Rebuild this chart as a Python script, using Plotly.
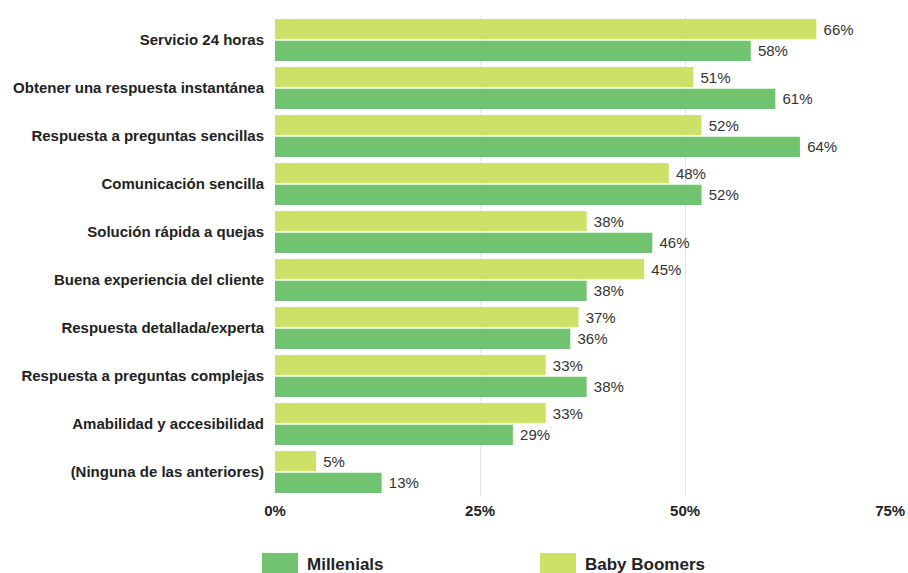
import plotly.graph_objects as go

categories = [
    "Servicio 24 horas",
    "Obtener una respuesta instantánea",
    "Respuesta a preguntas sencillas",
    "Comunicación sencilla",
    "Solución rápida a quejas",
    "Buena experiencia del cliente",
    "Respuesta detallada/experta",
    "Respuesta a preguntas complejas",
    "Amabilidad y accesibilidad",
    "(Ninguna de las anteriores)",
]
baby_boomers = [66, 51, 52, 48, 38, 45, 37, 33, 33, 5]
millenials = [58, 61, 64, 52, 46, 38, 36, 38, 29, 13]
tick_vals = [0, 25, 50, 75]
tick_text = ["0%", "25%", "50%", "75%"]

C_MIL = "#72c36f"
C_BB = "#cde166"
FONT = "Liberation Sans"

fig = go.Figure()
fig.add_trace(go.Bar(
    y=categories, x=baby_boomers, orientation="h", name="Baby Boomers",
    marker=dict(color=C_BB, line=dict(width=0)),
    texttemplate=" %{x}%", textposition="outside", cliponaxis=False,
    textfont=dict(family=FONT, size=15, color="#333333"),
))
fig.add_trace(go.Bar(
    y=categories, x=millenials, orientation="h", name="Millenials",
    marker=dict(color=C_MIL, line=dict(width=0)),
    texttemplate=" %{x}%", textposition="outside", cliponaxis=False,
    textfont=dict(family=FONT, size=15, color="#333333"),
))

W, H = 908, 573
L, R, T, B = 275, 17, 16, 77
pw = W - L - R
ph = H - T - B

def px_x(x):
    return (x - L) / pw

def px_y(y):
    return (H - B - y) / ph

shapes = []
annotations = []
for (sx, label, col) in [(262, "Millenials", C_MIL), (540, "Baby Boomers", C_BB)]:
    shapes.append(dict(type="rect", xref="paper", yref="paper",
                       x0=px_x(sx), x1=px_x(sx + 36), y0=px_y(553), y1=px_y(574),
                       fillcolor=col, line=dict(width=0)))
    annotations.append(dict(xref="paper", yref="paper", x=px_x(sx + 43), y=px_y(564),
                            text="<b>" + label + "</b>", showarrow=False,
                            xanchor="left", yanchor="middle",
                            font=dict(family=FONT, size=17, color="#222222")))

fig.update_layout(
    width=W, height=H,
    margin=dict(l=L, r=R, t=T, b=B, autoexpand=False),
    barmode="group", bargap=0.1, bargroupgap=0.06,
    plot_bgcolor="white", paper_bgcolor="white",
    showlegend=False,
    font=dict(family=FONT, size=15, color="#222222"),
    xaxis=dict(range=[0, 75.1], tickvals=tick_vals, ticktext=tick_text,
               showgrid=True, gridcolor="#e6e6e6", gridwidth=1,
               zeroline=False, showline=False, automargin=False,
               tickfont=dict(family=FONT, size=15, color="#222222", weight="bold"),
               ticklabelstandoff=4),
    yaxis=dict(autorange="reversed", showgrid=False, zeroline=False, showline=False,
               automargin=False,
               tickfont=dict(family=FONT, size=15, color="#222222", weight="bold"),
               ticklabelstandoff=10),
    shapes=shapes, annotations=annotations,
)

fig.write_html("out.html", config={"displayModeBar": False},
               post_script="document.body.style.margin='0';document.body.style.overflow='hidden';")
